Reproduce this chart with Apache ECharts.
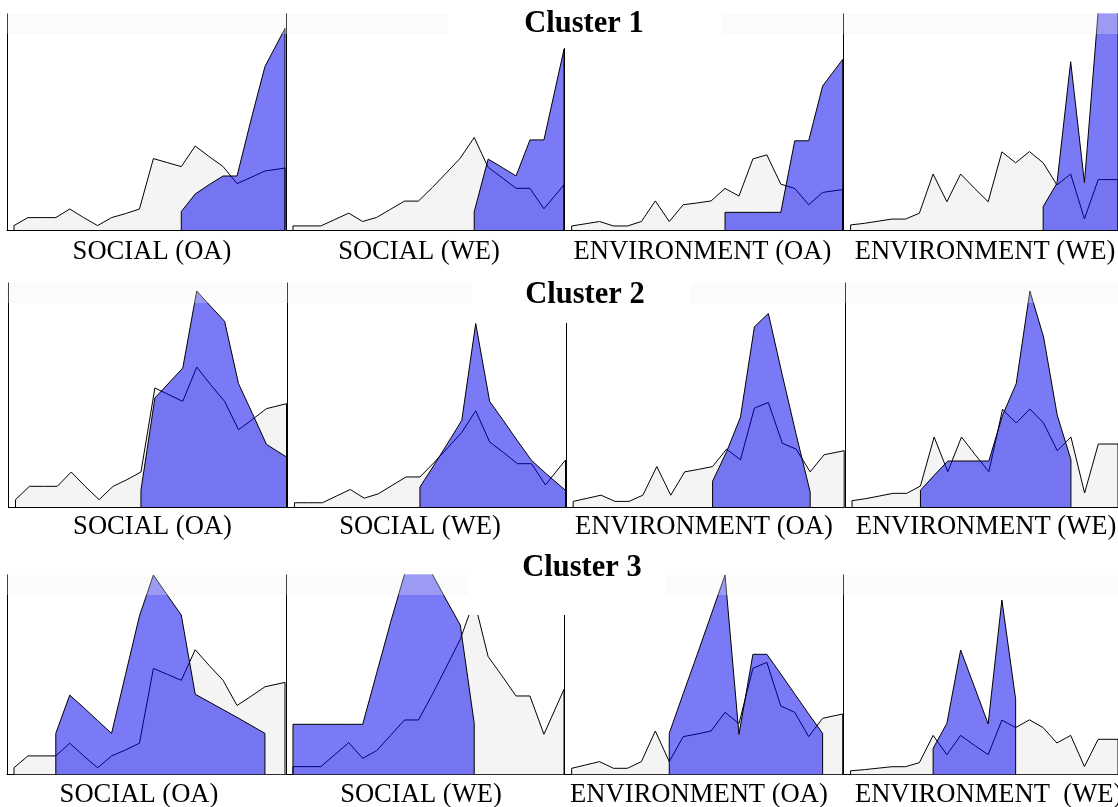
<!DOCTYPE html>
<html>
<head>
<meta charset="utf-8">
<script src="https://cdn.jsdelivr.net/npm/echarts@6/dist/echarts.min.js"></script>
<style>
html,body{margin:0;padding:0;background:#fff;}
#chart{width:1118px;height:807px;}
</style>
</head>
<body>
<div id="chart"></div>
<script>
// ---- data ----
const BINS = [0,1,2,3,4,5,6,7,8,9,10,11,12,13,14,15,16,17,18,19.44];
const PANEL_NAMES = ['SOCIAL (OA)', 'SOCIAL (WE)', 'ENVIRONMENT (OA)', 'ENVIRONMENT (WE)'];
const CLUSTER_NAMES = ['Cluster 1', 'Cluster 2', 'Cluster 3'];

// overall distribution per indicator (grey)
const ALL_SOCIAL_OA = [22,62,62,62,105,62,22,62,82,105,357,337,317,420,367,317,232,263,295,310];
const ALL_SOCIAL_WE = [23,23,23,59,95,48,71,117,163,163,240,322,405,522,353,295,235,235,120,255];
const ALL_ENV_OA    = [18,28,38,18,18,38,130,38,113,121,130,186,152,318,336,205,186,113,168,181];
const ALL_ENV_WE    = [19,25,33,41,41,63,210,106,210,157,106,293,252,294,252,169,210,42,189,189];

// cluster distributions (blue), null = no members
const C1_SOCIAL_OA = [null,null,null,null,null,null,null,null,null,null,null,null,92,180,227,270,270,550,817,1008];
const C1_SOCIAL_WE = [null,null,null,null,null,null,null,null,null,null,null,null,null,103,400,353,305,508,508,1019];
const C1_ENV_OA    = [null,null,null,null,null,null,null,null,null,null,null,79,79,79,79,79,399,399,644,763];
const C1_ENV_WE    = [null,null,null,null,null,null,null,null,null,null,null,null,null,null,88,175,631,178,820,880];

const C2_SOCIAL_OA = [null,null,null,null,null,null,null,null,null,50,327,372,417,648,602,557,370,280,188,150];
const C2_SOCIAL_WE = [null,null,null,null,null,null,null,null,null,108,226,347,470,995,573,467,358,253,184,90];
const C2_ENV_OA    = [null,null,null,null,null,null,null,null,null,null,83,177,289,579,622,424,232,48,null,null];
const C2_ENV_WE    = [null,null,null,null,null,50,95,138,138,138,138,275,370,648,510,275,142,null,null,null];

const C3_SOCIAL_OA = [null,null,null,138,267,225,181,138,336,534,672,604,537,270,244,218,192,165,138,null];
const C3_SOCIAL_WE = [150,150,150,150,150,150,303,456,600,640,600,523,448,153,null,null,null,null,null,null];
const C3_ENV_OA    = [null,null,null,null,null,null,null,123,242,359,478,598,120,360,360,301,241,181,123,null];
const C3_ENV_WE    = [null,null,null,null,null,null,140,275,671,473,272,941,405,null,null,null,null,null,null,null];

// y-axis maxima per panel
const YMAX_C1 = [1080,1218,966,810];
const YMAX_C2 = [672,1215,720,672];
const YMAX_C3 = [672,598,598,1076];

const ALL = [ALL_SOCIAL_OA, ALL_SOCIAL_WE, ALL_ENV_OA, ALL_ENV_WE];
const CLUSTERS = [
  [C1_SOCIAL_OA, C1_SOCIAL_WE, C1_ENV_OA, C1_ENV_WE],
  [C2_SOCIAL_OA, C2_SOCIAL_WE, C2_ENV_OA, C2_ENV_WE],
  [C3_SOCIAL_OA, C3_SOCIAL_WE, C3_ENV_OA, C3_ENV_WE]
];
const YMAX = [YMAX_C1, YMAX_C2, YMAX_C3];

// ---- layout ----
const COL_LEFT = [7, 286, 564.7, 843.7];
const COL_W = 278;
const ROW_TOP = [14, 283, 575];
const ROW_H = [216, 224, 199.3];
const ROW_SHIFT = [0, 1.5, 0];
const LABEL_X = [[152,419,702.5,985],[152.5,420,704,986],[139,421,699,855]];
const LABEL_Y = [252.5, 527.5, 795];
const TITLE_POS = [[584,24],[585,295],[582,568]];
const TITLE_BOX = [[448,0,274,48],[472,270,218,53],[468,545,199,70]];

function closed(vals) {
  let first = -1, last = -1;
  vals.forEach((v, i) => { if (v != null) { if (first < 0) first = i; last = i; } });
  const pts = [[BINS[first], 0]];
  for (let i = first; i <= last; i++) pts.push([BINS[i], vals[i]]);
  pts.push([BINS[last], 0]);
  return pts;
}

const grids = [], xAxes = [], yAxes = [], series = [], graphics = [];
for (let r = 0; r < 3; r++) {
  for (let c = 0; c < 4; c++) {
    const k = r * 4 + c;
    grids.push({left: COL_LEFT[c] + ROW_SHIFT[r], top: ROW_TOP[r], width: COL_W, height: ROW_H[r], containLabel: false});
    xAxes.push({gridIndex: k, type: 'value', min: -0.5, max: 19.44,
      axisLine: {show: true, onZero: false, lineStyle: {color: '#000', width: 1}},
      axisTick: {show: false}, axisLabel: {show: false}, splitLine: {show: false}});
    yAxes.push({gridIndex: k, type: 'value', min: 0, max: YMAX[r][c],
      axisLine: {show: true, onZero: false, lineStyle: {color: '#000', width: 1}},
      axisTick: {show: false}, axisLabel: {show: false}, splitLine: {show: false}});
    series.push({type: 'line', xAxisIndex: k, yAxisIndex: k, data: closed(ALL[c]),
      showSymbol: false, symbol: 'none', clip: true,
      lineStyle: {color: '#000', width: 1}, areaStyle: {color: '#f4f4f4', opacity: 1}, z: 2});
    series.push({type: 'line', xAxisIndex: k, yAxisIndex: k, data: closed(CLUSTERS[r][c]),
      showSymbol: false, symbol: 'none', clip: true,
      lineStyle: {color: '#000', width: 1}, areaStyle: {color: 'rgba(0,0,238,0.52)', opacity: 1}, z: 3});
    graphics.push({type: 'text', z: 120, style: {
      text: (r === 2 && c === 3) ? 'ENVIRONMENT  (WE)' : PANEL_NAMES[c],
      x: LABEL_X[r][c], y: LABEL_Y[r],
      textAlign: (r === 2 && c === 3) ? 'left' : 'center', textVerticalAlign: 'middle',
      font: '26.6px "Liberation Serif", "Times New Roman", serif', fill: '#000'}});
  }
  // faint top band
  graphics.push({type: 'rect', z: 100, shape: {x: 7, y: ROW_TOP[r], width: 1111, height: 20},
    style: {fill: 'rgba(240,240,240,0.28)'}});
  // title box
  const b = TITLE_BOX[r];
  graphics.push({type: 'rect', z: 110, shape: {x: b[0], y: b[1], width: b[2], height: b[3]}, style: {fill: '#fff'}});
  graphics.push({type: 'text', z: 120, style: {text: CLUSTER_NAMES[r], x: TITLE_POS[r][0], y: TITLE_POS[r][1],
    textAlign: 'center', textVerticalAlign: 'middle',
    font: 'bold 30.5px "Liberation Serif", "Times New Roman", serif', fill: '#000'}});
}

const chart = echarts.init(document.getElementById('chart'), null, {renderer: 'canvas'});
chart.setOption({
  animation: false,
  backgroundColor: '#fff',
  grid: grids, xAxis: xAxes, yAxis: yAxes, series: series,
  graphic: {elements: graphics}
});
</script>
</body>
</html>
